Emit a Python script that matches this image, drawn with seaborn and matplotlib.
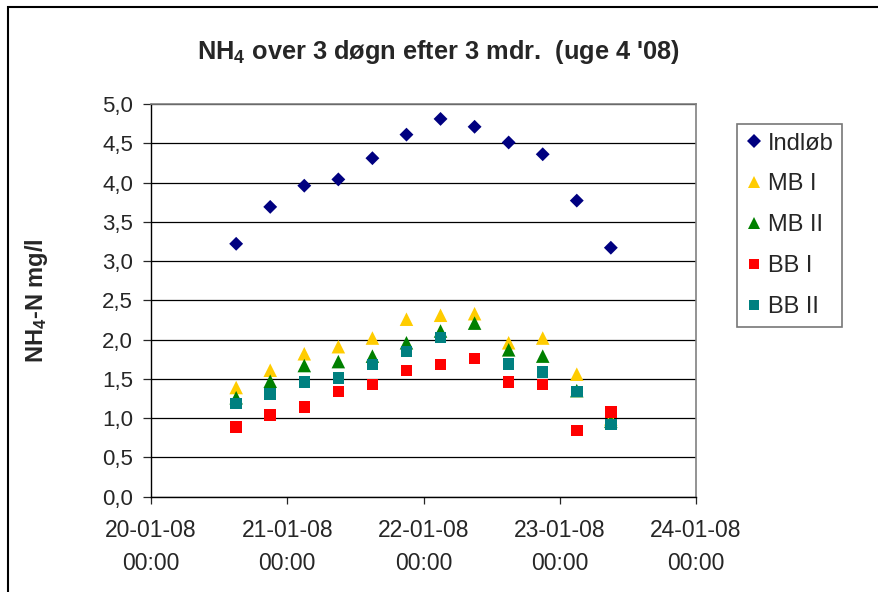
import numpy as np
import pandas as pd
import seaborn as sns
import matplotlib.pyplot as plt
import matplotlib.dates as mdates
from matplotlib.lines import Line2D
from matplotlib.patches import Rectangle

# prøvetidspunkter (hver 6. time)
tider = ['2008-01-20 15:00', '2008-01-20 21:00', '2008-01-21 03:00', '2008-01-21 09:00',
         '2008-01-21 15:00', '2008-01-21 21:00', '2008-01-22 03:00', '2008-01-22 09:00',
         '2008-01-22 15:00', '2008-01-22 21:00', '2008-01-23 03:00', '2008-01-23 09:00']

indlob = [3.22, 3.69, 3.96, 4.04, 4.31, 4.61, 4.81, 4.71, 4.51, 4.36, 3.77, 3.17]
mb1 = [1.39, 1.61, 1.82, 1.91, 2.02, 2.26, 2.31, 2.33, 1.96, 2.02, 1.56, 0.99]
mb2 = [1.26, 1.47, 1.67, 1.72, 1.79, 1.96, 2.11, 2.21, 1.87, 1.79, 1.35, 0.96]
bb1 = [0.89, 1.04, 1.14, 1.34, 1.43, 1.61, 1.68, 1.76, 1.46, 1.43, 0.84, 1.08]
bb2 = [1.19, 1.31, 1.46, 1.51, 1.68, 1.85, 2.03, np.nan, 1.69, 1.59, 1.34, 0.92]

serier = ['Indløb', 'MB I', 'MB II', 'BB I', 'BB II']
farver = {'Indløb': '#000080', 'MB I': '#FFCC00', 'MB II': '#008000',
          'BB I': '#FF0000', 'BB II': '#008080'}
markoerer = {'Indløb': 'D', 'MB I': '^', 'MB II': '^', 'BB I': 's', 'BB II': 's'}
stoerrelser = {'Indløb': 50, 'MB I': 95, 'MB II': 95, 'BB I': 68, 'BB II': 68}


def main():
    df = pd.DataFrame({'tid': pd.to_datetime(tider), 'Indløb': indlob, 'MB I': mb1,
                       'MB II': mb2, 'BB I': bb1, 'BB II': bb2})
    lang = df.melt(id_vars='tid', var_name='serie', value_name='NH4').dropna()

    sns.set_style('white')
    plt.rcParams['font.family'] = ['Liberation Sans', 'DejaVu Sans']
    plt.rcParams['mathtext.fontset'] = 'custom'
    plt.rcParams['mathtext.rm'] = 'Liberation Sans:bold'
    plt.rcParams['mathtext.it'] = 'Liberation Sans:bold'
    plt.rcParams['mathtext.bf'] = 'Liberation Sans:bold'

    fig = plt.figure(figsize=(8.79, 5.92), dpi=100)
    ax = fig.add_axes([151 / 879, 1 - 496.7 / 592, 545 / 879, 392.7 / 592])

    sns.scatterplot(data=lang, x='tid', y='NH4', hue='serie', style='serie', size='serie',
                    hue_order=serier, style_order=serier, size_order=serier,
                    palette=farver, markers=markoerer, sizes=stoerrelser,
                    linewidth=0, legend=False, ax=ax, zorder=3)

    ax.set_xlim(pd.Timestamp('2008-01-20'), pd.Timestamp('2008-01-24'))
    ax.set_ylim(0, 5)
    ax.set_yticks(np.arange(0, 5.01, 0.5))
    ax.set_yticklabels([f'{v:.1f}'.replace('.', ',') for v in np.arange(0, 5.01, 0.5)])
    ax.xaxis.set_major_locator(mdates.DayLocator())
    ax.xaxis.set_major_formatter(mdates.DateFormatter('%d-%m-%y\n%H:%M'))

    ax.yaxis.grid(True, color='black', linewidth=0.9)
    ax.set_axisbelow(True)
    for side in ['top', 'right']:
        ax.spines[side].set_color('#808080')
        ax.spines[side].set_linewidth(1.2)
    for side in ['left', 'bottom']:
        ax.spines[side].set_color('black')
        ax.spines[side].set_linewidth(1.0)

    ax.tick_params(axis='y', direction='out', length=6, width=0.9, pad=7,
                   labelsize=16, left=True)
    ax.tick_params(axis='x', direction='out', length=5, width=0.9, pad=11,
                   labelsize=16.5, bottom=True)
    for lbl in ax.get_xticklabels():
        lbl.set_linespacing(1.55)

    ax.set_xlabel('')
    ax.set_ylabel('NH$_{4}$-N mg/l', fontsize=17, fontweight='bold', va='center')
    ax.yaxis.set_label_coords(-0.21, 0.5)

    fig.text(0.499, 0.913, "NH$_{4}$ over 3 døgn efter 3 mdr.  (uge 4 '08)",
             ha='center', va='center', fontsize=18.3, fontweight='bold')

    handles = [Line2D([], [], linestyle='none', marker=markoerer[s], color=farver[s],
                      markeredgewidth=0, markersize=np.sqrt(stoerrelser[s]) * 0.95)
               for s in serier]
    leg = fig.legend(handles, serier, loc='upper left',
                     bbox_to_anchor=(737 / 879, 1 - 124 / 592), bbox_transform=fig.transFigure,
                     borderaxespad=0, fontsize=17, frameon=True, fancybox=False,
                     handlelength=0.7, handletextpad=0.26, labelspacing=0.8,
                     borderpad=0.36)
    leg.get_frame().set_edgecolor('#555555')
    leg.get_frame().set_linewidth(1.2)

    # ydre diagramramme
    fig.add_artist(Rectangle((8 / 879, -0.5), 2, 0.5 + 1 - 6.5 / 592, transform=fig.transFigure,
                             fill=False, edgecolor='black', linewidth=1.5))

    fig.savefig('out.png', dpi=100)


if __name__ == "__main__":
    main()
